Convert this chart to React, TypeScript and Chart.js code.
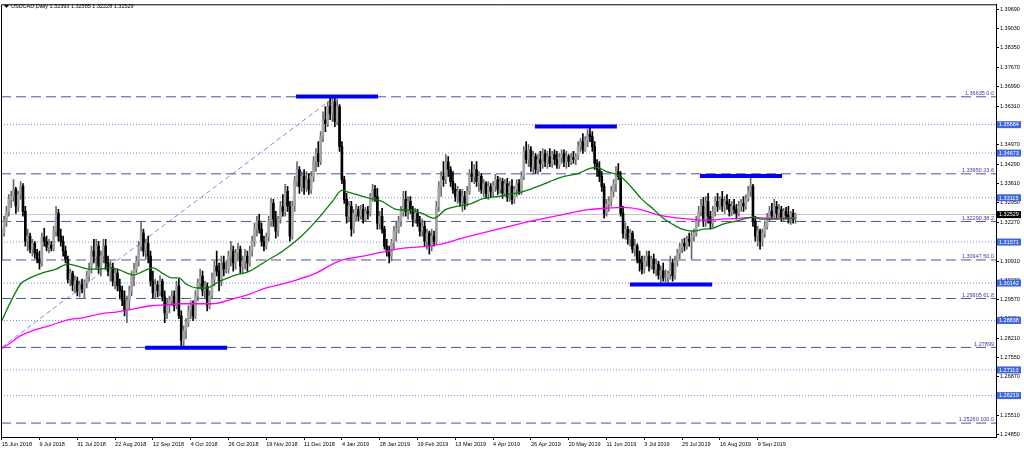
import React, { useEffect, useRef } from 'react';
import { Chart, registerables } from 'chart.js';
Chart.register(...registerables);

const titleText = 'USDCAD,Daily 1.32393 1.32585 1.32228 1.32529';

// Daily candles [open, high, low, close]
const ohlcPart1: number[][] = [
  [1.3108,1.3202,1.3091,1.3188],[1.3188,1.3247,1.3178,1.3230],[1.3230,1.3282,1.3212,1.3264],[1.3264,1.3323,1.3247,1.3306],
  [1.3306,1.3334,1.3278,1.3316],[1.3316,1.3375,1.3299,1.3341],[1.3341,1.3348,1.3257,1.3282],[1.3282,1.3334,1.3264,1.3323],
  [1.3323,1.3368,1.3306,1.3351],[1.3351,1.3361,1.3247,1.3264],[1.3264,1.3282,1.3143,1.3160],[1.3160,1.3202,1.3126,1.3178],
  [1.3178,1.3188,1.3119,1.3132],[1.3132,1.3167,1.3108,1.3153],[1.3153,1.3160,1.3101,1.3119],[1.3119,1.3132,1.3084,1.3098],
  [1.3098,1.3126,1.3063,1.3084],[1.3084,1.3188,1.3073,1.3174],[1.3174,1.3205,1.3143,1.3160],[1.3160,1.3178,1.3126,1.3139],
  [1.3139,1.3167,1.3119,1.3146],[1.3146,1.3160,1.3126,1.3136],[1.3136,1.3212,1.3126,1.3195],[1.3195,1.3282,1.3178,1.3257],
  [1.3257,1.3271,1.3160,1.3178],[1.3178,1.3202,1.3143,1.3160],[1.3160,1.3178,1.3108,1.3126],[1.3126,1.3143,1.3084,1.3098],
  [1.3098,1.3108,1.3015,1.3028],[1.3028,1.3063,1.3004,1.3049],[1.3049,1.3056,1.2987,1.3008],[1.3008,1.3039,1.2980,1.3021],
  [1.3021,1.3035,1.2969,1.2987],[1.2987,1.3021,1.2966,1.3008],[1.3008,1.3028,1.2980,1.2994],[1.2994,1.3025,1.2962,1.3015],
  [1.3015,1.3056,1.2997,1.3039],[1.3039,1.3084,1.3021,1.3063],[1.3063,1.3143,1.3049,1.3126],[1.3126,1.3167,1.3084,1.3108],
  [1.3108,1.3167,1.3063,1.3143],[1.3143,1.3160,1.3049,1.3073],[1.3073,1.3126,1.3039,1.3108],[1.3108,1.3167,1.3084,1.3143],
  [1.3143,1.3167,1.3063,1.3084],[1.3084,1.3108,1.3039,1.3056],[1.3056,1.3091,1.3021,1.3070],[1.3070,1.3084,1.3004,1.3021],
  [1.3021,1.3063,1.2994,1.3049],[1.3049,1.3063,1.2987,1.3004],[1.3004,1.3028,1.2959,1.2987],[1.2987,1.3004,1.2935,1.2952],
  [1.2952,1.2987,1.2900,1.2917],[1.2917,1.2969,1.2876,1.2952],[1.2952,1.3004,1.2924,1.2987],[1.2987,1.3056,1.2969,1.3039],
  [1.3039,1.3084,1.3004,1.3063],[1.3063,1.3108,1.3049,1.3091],[1.3091,1.3160,1.3073,1.3143],[1.3143,1.3226,1.3126,1.3188],
  [1.3188,1.3202,1.3108,1.3126],[1.3126,1.3167,1.3098,1.3153],[1.3153,1.3178,1.3084,1.3108],[1.3108,1.3126,1.3004,1.3021],
  [1.3021,1.3056,1.2962,1.2980],[1.2980,1.3028,1.2959,1.3008],[1.3008,1.3021,1.2966,1.2987],[1.2987,1.3039,1.2969,1.3021],
  [1.3021,1.3028,1.2952,1.2966],[1.2966,1.2987,1.2876,1.2910],[1.2910,1.2959,1.2890,1.2935],[1.2935,1.2969,1.2910,1.2952],
  [1.2952,1.2987,1.2935,1.2969],[1.2969,1.2987,1.2917,1.2935],[1.2935,1.3021,1.2924,1.3004],[1.3004,1.3028,1.2890,1.2900],
  [1.2900,1.2917,1.2785,1.2813],[1.2813,1.2865,1.2796,1.2848],[1.2848,1.2890,1.2820,1.2876],[1.2876,1.2935,1.2862,1.2917],
  [1.2917,1.2952,1.2890,1.2935],[1.2935,1.2952,1.2883,1.2900],[1.2900,1.2987,1.2890,1.2969],[1.2969,1.3028,1.2952,1.3015],
  [1.3015,1.3063,1.2994,1.3039],[1.3039,1.3056,1.2969,1.2987],[1.2987,1.3021,1.2959,1.3004],[1.3004,1.3015,1.2917,1.2935],
  [1.2935,1.2987,1.2924,1.2969],[1.2969,1.3049,1.2959,1.3028],[1.3028,1.3091,1.3004,1.3073],[1.3073,1.3126,1.3039,1.3056],
  [1.3056,1.3084,1.2987,1.3021],[1.3021,1.3108,1.3004,1.3084],[1.3084,1.3108,1.3039,1.3063],[1.3063,1.3091,1.3049,1.3063],
];
const ohlcPart2: number[][] = [
  [1.3063,1.3126,1.3049,1.3108],[1.3108,1.3160,1.3073,1.3126],[1.3126,1.3143,1.3056,1.3084],[1.3084,1.3132,1.3063,1.3119],
  [1.3119,1.3153,1.3091,1.3132],[1.3132,1.3143,1.3049,1.3073],[1.3073,1.3108,1.3046,1.3091],[1.3091,1.3132,1.3063,1.3108],
  [1.3108,1.3126,1.3056,1.3084],[1.3084,1.3143,1.3073,1.3126],[1.3126,1.3178,1.3108,1.3160],[1.3160,1.3223,1.3143,1.3202],
  [1.3202,1.3247,1.3178,1.3230],[1.3230,1.3254,1.3188,1.3202],[1.3202,1.3223,1.3143,1.3160],[1.3160,1.3178,1.3126,1.3143],
  [1.3143,1.3188,1.3132,1.3174],[1.3174,1.3247,1.3160,1.3230],[1.3230,1.3309,1.3212,1.3292],[1.3292,1.3306,1.3212,1.3237],
  [1.3237,1.3264,1.3171,1.3195],[1.3195,1.3247,1.3178,1.3237],[1.3237,1.3299,1.3223,1.3282],[1.3282,1.3323,1.3247,1.3264],
  [1.3264,1.3358,1.3247,1.3334],[1.3334,1.3351,1.3264,1.3282],[1.3282,1.3299,1.3160,1.3178],[1.3178,1.3299,1.3167,1.3282],
  [1.3282,1.3386,1.3264,1.3368],[1.3368,1.3438,1.3351,1.3410],[1.3410,1.3420,1.3327,1.3351],[1.3351,1.3403,1.3334,1.3386],
  [1.3386,1.3410,1.3323,1.3348],[1.3348,1.3403,1.3334,1.3375],[1.3375,1.3396,1.3323,1.3341],[1.3341,1.3403,1.3327,1.3386],
  [1.3386,1.3455,1.3368,1.3438],[1.3438,1.3483,1.3403,1.3466],[1.3466,1.3507,1.3420,1.3438],[1.3438,1.3542,1.3427,1.3525],
  [1.3525,1.3611,1.3507,1.3584],[1.3584,1.3629,1.3542,1.3570],[1.3570,1.3646,1.3559,1.3629],[1.3629,1.3663,1.3584,1.3604],
  [1.3604,1.3663,1.3577,1.3646],[1.3646,1.3660,1.3559,1.3577],[1.3577,1.3656,1.3566,1.3629],[1.3629,1.3636,1.3473,1.3490],
  [1.3490,1.3507,1.3361,1.3375],[1.3375,1.3386,1.3292,1.3306],[1.3306,1.3327,1.3223,1.3247],[1.3247,1.3299,1.3230,1.3282],
  [1.3282,1.3299,1.3178,1.3202],[1.3202,1.3271,1.3188,1.3257],[1.3257,1.3289,1.3230,1.3271],[1.3271,1.3282,1.3230,1.3247],
  [1.3247,1.3285,1.3237,1.3271],[1.3271,1.3289,1.3223,1.3237],[1.3237,1.3278,1.3230,1.3264],[1.3264,1.3282,1.3237,1.3257],
  [1.3257,1.3327,1.3247,1.3316],[1.3316,1.3358,1.3299,1.3341],[1.3341,1.3355,1.3299,1.3316],[1.3316,1.3344,1.3202,1.3223],
  [1.3223,1.3264,1.3202,1.3247],[1.3247,1.3275,1.3188,1.3202],[1.3202,1.3212,1.3132,1.3143],[1.3143,1.3167,1.3108,1.3126],
  [1.3126,1.3143,1.3084,1.3108],[1.3108,1.3167,1.3091,1.3153],[1.3153,1.3212,1.3132,1.3195],[1.3195,1.3230,1.3160,1.3202],
  [1.3202,1.3247,1.3188,1.3230],[1.3230,1.3282,1.3212,1.3264],[1.3264,1.3334,1.3247,1.3306],[1.3306,1.3334,1.3247,1.3264],
  [1.3264,1.3316,1.3237,1.3299],[1.3299,1.3316,1.3257,1.3271],[1.3271,1.3282,1.3212,1.3237],[1.3237,1.3275,1.3223,1.3257],
  [1.3257,1.3271,1.3212,1.3223],[1.3223,1.3247,1.3178,1.3195],[1.3195,1.3237,1.3178,1.3212],[1.3212,1.3230,1.3143,1.3160],
  [1.3160,1.3202,1.3132,1.3188],[1.3188,1.3195,1.3115,1.3143],[1.3143,1.3202,1.3126,1.3178],[1.3178,1.3195,1.3143,1.3160],
  [1.3160,1.3299,1.3150,1.3282],[1.3282,1.3368,1.3264,1.3351],[1.3351,1.3403,1.3316,1.3386],[1.3386,1.3438,1.3351,1.3375],
  [1.3375,1.3462,1.3361,1.3438],[1.3438,1.3455,1.3386,1.3410],[1.3410,1.3420,1.3351,1.3368],[1.3368,1.3403,1.3327,1.3341],
  [1.3341,1.3361,1.3299,1.3316],[1.3316,1.3351,1.3292,1.3334],[1.3334,1.3341,1.3282,1.3299],[1.3299,1.3341,1.3264,1.3316],
  [1.3316,1.3334,1.3271,1.3292],[1.3292,1.3351,1.3282,1.3334],[1.3334,1.3410,1.3323,1.3396],[1.3396,1.3438,1.3368,1.3386],
  [1.3386,1.3427,1.3361,1.3410],[1.3410,1.3438,1.3351,1.3368],[1.3368,1.3403,1.3334,1.3386],[1.3386,1.3396,1.3327,1.3341],
  [1.3341,1.3375,1.3316,1.3361],[1.3361,1.3368,1.3309,1.3327],[1.3327,1.3368,1.3306,1.3351],[1.3351,1.3361,1.3313,1.3334],
  [1.3334,1.3368,1.3316,1.3355],[1.3355,1.3393,1.3334,1.3375],[1.3375,1.3386,1.3323,1.3341],[1.3341,1.3382,1.3327,1.3368],
  [1.3368,1.3379,1.3309,1.3327],[1.3327,1.3375,1.3316,1.3361],[1.3361,1.3379,1.3299,1.3316],[1.3316,1.3368,1.3299,1.3351],
  [1.3351,1.3375,1.3289,1.3306],[1.3306,1.3351,1.3292,1.3341],[1.3341,1.3375,1.3316,1.3361],[1.3361,1.3375,1.3323,1.3334],
  [1.3334,1.3403,1.3323,1.3386],[1.3386,1.3490,1.3375,1.3473],[1.3473,1.3507,1.3431,1.3445],[1.3445,1.3497,1.3420,1.3479],
  [1.3479,1.3490,1.3403,1.3420],[1.3420,1.3473,1.3393,1.3455],[1.3455,1.3466,1.3396,1.3410],[1.3410,1.3462,1.3393,1.3445],
  [1.3445,1.3473,1.3403,1.3431],[1.3431,1.3483,1.3414,1.3466],[1.3466,1.3479,1.3420,1.3438],[1.3438,1.3473,1.3414,1.3455],
  [1.3455,1.3483,1.3420,1.3431],[1.3431,1.3473,1.3417,1.3462],[1.3462,1.3479,1.3427,1.3445],[1.3445,1.3473,1.3414,1.3424],
  [1.3424,1.3466,1.3414,1.3452],[1.3452,1.3479,1.3431,1.3466],[1.3466,1.3479,1.3420,1.3438],[1.3438,1.3473,1.3414,1.3455],
  [1.3455,1.3462,1.3420,1.3438],[1.3438,1.3466,1.3427,1.3452],[1.3452,1.3473,1.3431,1.3445],[1.3445,1.3466,1.3427,1.3455],
  [1.3455,1.3507,1.3445,1.3490],[1.3490,1.3518,1.3473,1.3507],[1.3507,1.3535,1.3466,1.3479],[1.3479,1.3525,1.3473,1.3514],
  [1.3514,1.3549,1.3490,1.3532],[1.3532,1.3556,1.3507,1.3525],[1.3525,1.3542,1.3473,1.3490],[1.3490,1.3507,1.3410,1.3431],
  [1.3431,1.3445,1.3386,1.3410],[1.3410,1.3438,1.3368,1.3386],[1.3386,1.3403,1.3334,1.3351],[1.3351,1.3361,1.3240,1.3257],
  [1.3257,1.3306,1.3247,1.3289],[1.3289,1.3316,1.3264,1.3299],[1.3299,1.3351,1.3282,1.3334],[1.3334,1.3375,1.3316,1.3361],
  [1.3361,1.3420,1.3334,1.3403],[1.3403,1.3431,1.3375,1.3386],[1.3386,1.3403,1.3247,1.3257],[1.3257,1.3282,1.3171,1.3188],
  [1.3188,1.3223,1.3167,1.3202],[1.3202,1.3212,1.3150,1.3167],[1.3167,1.3202,1.3143,1.3188],[1.3188,1.3195,1.3119,1.3132],
  [1.3132,1.3167,1.3108,1.3143],[1.3143,1.3150,1.3084,1.3098],[1.3098,1.3126,1.3056,1.3084],[1.3084,1.3108,1.3046,1.3063],
  [1.3063,1.3108,1.3049,1.3091],[1.3091,1.3126,1.3073,1.3108],[1.3108,1.3126,1.3056,1.3073],[1.3073,1.3108,1.3063,1.3098],
  [1.3098,1.3115,1.3049,1.3063],[1.3063,1.3098,1.3039,1.3080],[1.3080,1.3091,1.3028,1.3042],[1.3042,1.3073,1.3015,1.3056],
  [1.3056,1.3084,1.3021,1.3032],[1.3032,1.3060,1.3018,1.3032],
];
const ohlcPart3: number[][] = [
  [1.3032,1.3056,1.3015,1.3046],[1.3046,1.3108,1.3028,1.3084],[1.3084,1.3098,1.3021,1.3039],[1.3039,1.3108,1.3028,1.3091],
  [1.3091,1.3132,1.3073,1.3119],[1.3119,1.3153,1.3098,1.3139],[1.3139,1.3167,1.3119,1.3153],[1.3153,1.3171,1.3126,1.3143],
  [1.3143,1.3178,1.3132,1.3167],[1.3167,1.3188,1.3143,1.3160],[1.3160,1.3195,1.3098,1.3178],[1.3178,1.3202,1.3160,1.3188],
  [1.3188,1.3247,1.3178,1.3230],[1.3230,1.3282,1.3212,1.3264],[1.3264,1.3306,1.3247,1.3282],[1.3282,1.3313,1.3212,1.3230],
  [1.3230,1.3316,1.3212,1.3299],[1.3299,1.3327,1.3223,1.3247],[1.3247,1.3264,1.3202,1.3223],[1.3223,1.3282,1.3209,1.3264],
  [1.3264,1.3316,1.3247,1.3299],[1.3299,1.3327,1.3264,1.3282],[1.3282,1.3316,1.3271,1.3306],[1.3306,1.3334,1.3264,1.3282],
  [1.3282,1.3316,1.3257,1.3299],[1.3299,1.3323,1.3271,1.3289],[1.3289,1.3306,1.3247,1.3264],[1.3264,1.3299,1.3250,1.3282],
  [1.3282,1.3306,1.3257,1.3271],[1.3271,1.3289,1.3237,1.3257],[1.3257,1.3299,1.3247,1.3282],[1.3282,1.3306,1.3264,1.3292],
  [1.3292,1.3316,1.3264,1.3282],[1.3282,1.3323,1.3271,1.3309],[1.3309,1.3351,1.3299,1.3334],[1.3334,1.3386,1.3316,1.3351],
  [1.3351,1.3358,1.3212,1.3230],[1.3230,1.3247,1.3160,1.3178],[1.3178,1.3212,1.3143,1.3195],[1.3195,1.3202,1.3132,1.3160],
  [1.3160,1.3202,1.3143,1.3188],[1.3188,1.3230,1.3174,1.3212],[1.3212,1.3257,1.3202,1.3243],[1.3243,1.3282,1.3230,1.3264],
  [1.3264,1.3292,1.3237,1.3250],[1.3250,1.3306,1.3243,1.3282],[1.3282,1.3299,1.3237,1.3257],[1.3257,1.3289,1.3243,1.3271],
  [1.3271,1.3282,1.3230,1.3243],[1.3243,1.3275,1.3230,1.3264],[1.3264,1.3278,1.3237,1.3250],[1.3250,1.3282,1.3223,1.3237],
  [1.3237,1.3264,1.3219,1.3257],[1.3257,1.3271,1.3223,1.3237],[1.32393,1.32585,1.32228,1.32529],
];

// Moving averages sampled at [bar index, price]
const greenMA: number[][] = [
  [0,1.2883],[4,1.2952],[8,1.3011],[12,1.3032],[17,1.3049],[23,1.3063],[28,1.3080],[32,1.3073],[37,1.3063],[42,1.3063],
  [45,1.3067],[49,1.3063],[53,1.3049],[56,1.3042],[60,1.3056],[64,1.3067],[68,1.3049],[72,1.3032],[75,1.3032],[78,1.3011],
  [83,1.2997],[87,1.2997],[91,1.3015],[98,1.3039],[105,1.3056],[112,1.3091],[119,1.3126],[126,1.3171],[133,1.3230],[140,1.3299],
  [144,1.3337],[147,1.3330],[150,1.3323],[156,1.3309],[161,1.3299],[167,1.3271],[173,1.3268],[178,1.3257],[183,1.3240],[188,1.3271],
  [193,1.3282],[198,1.3289],[204,1.3309],[210,1.3316],[215,1.3323],[221,1.3334],[227,1.3351],[232,1.3368],[238,1.3386],[244,1.3396],
  [249,1.3414],[252,1.3417],[256,1.3403],[260,1.3393],[263,1.3379],[267,1.3344],[271,1.3306],[276,1.3271],[280,1.3240],[284,1.3219],
  [288,1.3202],[293,1.3195],[297,1.3202],[301,1.3205],[305,1.3219],[311,1.3230],[315,1.3240],[318,1.3243],[322,1.3237],[328,1.3237],
  [334,1.3240],[336,1.3240],
];
const magentaMA: number[][] = [
  [0,1.2786],[4,1.2807],[8,1.2831],[13,1.2848],[20,1.2865],[28,1.2886],[34,1.2893],[42,1.2907],[49,1.2914],[56,1.2924],
  [63,1.2935],[70,1.2938],[75,1.2942],[84,1.2942],[89,1.2942],[98,1.2959],[105,1.2976],[112,1.2997],[119,1.3011],[126,1.3028],
  [133,1.3049],[140,1.3080],[144,1.3094],[153,1.3108],[161,1.3122],[170,1.3136],[181,1.3143],[186,1.3150],[195,1.3171],[210,1.3202],
  [224,1.3230],[238,1.3254],[249,1.3271],[256,1.3275],[263,1.3278],[270,1.3271],[277,1.3254],[284,1.3243],[291,1.3237],[299,1.3233],
  [305,1.3237],[312,1.3240],[318,1.3243],[325,1.3240],[331,1.3240],[336,1.3243],
];

const dateTickBars = [0,16,32,48,64,80,96,112,128,144,160,176,192,208,224,240,256,272,288,304,320];
const dateTickLabels = ['15 Jun 2018','9 Jul 2018','31 Jul 2018','22 Aug 2018','12 Sep 2018','4 Oct 2018','26 Oct 2018',
  '19 Nov 2018','11 Dec 2018','4 Jan 2019','28 Jan 2019','19 Feb 2019','13 Mar 2019','4 Apr 2019','26 Apr 2019',
  '20 May 2019','11 Jun 2019','3 Jul 2019','25 Jul 2019','16 Aug 2019','9 Sep 2019'];
const priceTicks = [1.3969,1.3903,1.3835,1.3767,1.3699,1.3631,1.3563,1.3497,1.3429,1.3361,1.3295,1.3227,1.3159,1.3091,
  1.3023,1.2957,1.2889,1.2821,1.2755,1.2687,1.2619,1.2551,1.2485];

const fibLevels = [1.36635,1.3395,1.3229,1.30947,1.29605,1.27899,1.2526];
const fibLabels = ['1.36635 0.0','1.33950 23.6','1.32290 38.2','1.30947 50.0','1.29605 61.8','1.27899','1.25260 100.0'];
const dottedLevels = [1.35664,1.34673,1.33115,1.31571,1.30142,1.28838,1.27113,1.26219];
const currentPrice = 1.32529;
const trendStart = [0,1.27899];
const trendEnd = [141,1.36635];
// [from bar, to bar, price]
const blueSegments = [[124.6,159.3,1.3665],[225.7,260.4,1.356],[295.6,330.3,1.3387],[265.9,300.7,1.3009],[60.7,95.4,1.2789]];

const X_MIN = -0.3;
const X_MAX = 420.87;
const Y_MIN = 1.24775;
const Y_MAX = 1.3986;
const FONT = '"Liberation Sans", Arial, sans-serif';

export default function App() {
  const ref = useRef<HTMLCanvasElement>(null);
  useEffect(() => {
    document.body.style.margin = '0';
    const candles = [...ohlcPart1, ...ohlcPart2, ...ohlcPart3];
    const isBull = (c: number[]) => c[3] >= c[0];
    const hline = (v: number) => [{ x: X_MIN, y: v }, { x: X_MAX, y: v }];
    const datasets: any[] = [];

    blueSegments.forEach(s => datasets.push({
      type: 'line', data: [{ x: s[0], y: s[2] }, { x: s[1], y: s[2] }], borderColor: '#0000f0',
      borderWidth: 4, pointRadius: 0, borderCapStyle: 'butt', order: 1,
    }));
    datasets.push({
      type: 'line', data: greenMA.map(p => ({ x: p[0], y: p[1] })), borderColor: '#0a7a0a', borderWidth: 1.3,
      pointRadius: 0, cubicInterpolationMode: 'monotone', order: 2,
    });
    datasets.push({
      type: 'line', data: magentaMA.map(p => ({ x: p[0], y: p[1] })), borderColor: '#ff00ff', borderWidth: 1.3,
      pointRadius: 0, cubicInterpolationMode: 'monotone', order: 2,
    });
    datasets.push({
      type: 'bar', data: candles.map((c, i) => ({ x: i, y: [c[0], c[3]] })),
      backgroundColor: candles.map(c => (isBull(c) ? '#a4a4a4' : '#000000')), borderWidth: 0,
      grouped: false, categoryPercentage: 1, barPercentage: 1, maxBarThickness: 2, order: 4,
    });
    datasets.push({
      type: 'bar', data: candles.map((c, i) => ({ x: i, y: [c[2], c[1]] })),
      backgroundColor: candles.map(c => (isBull(c) ? '#6a6a6a' : '#000000')), borderWidth: 0,
      grouped: false, categoryPercentage: 1, barPercentage: 1, maxBarThickness: 1, order: 5,
    });
    datasets.push({
      type: 'line', data: [{ x: trendStart[0], y: trendStart[1] }, { x: trendEnd[0], y: trendEnd[1] }],
      borderColor: '#6b6bd0', borderWidth: 0.8, borderDash: [5, 3], pointRadius: 0, order: 6,
    });
    fibLevels.forEach(v => datasets.push({
      type: 'line', data: hline(v), borderColor: '#50509e', borderWidth: 1, borderDash: [10, 5],
      pointRadius: 0, order: 8,
    }));
    dottedLevels.forEach(v => datasets.push({
      type: 'line', data: hline(v), borderColor: '#6d8ee8', borderWidth: 1, borderDash: [1, 2],
      pointRadius: 0, order: 9,
    }));
    datasets.push({
      type: 'line', data: hline(currentPrice), borderColor: '#c4c4c4', borderWidth: 1, pointRadius: 0, order: 10,
    });

    const overlay = {
      id: 'mtOverlay',
      afterDraw(chart: any) {
        const { ctx, chartArea: a } = chart;
        const ys = chart.scales.y;
        ctx.save();
        ctx.strokeStyle = '#000';
        ctx.lineWidth = 1;
        ctx.beginPath();
        ctx.moveTo(a.left + 0.5, a.bottom);
        ctx.lineTo(a.left + 0.5, a.top + 0.5);
        ctx.lineTo(a.right, a.top + 0.5);
        ctx.stroke();
        // title
        ctx.fillStyle = '#000';
        ctx.beginPath();
        ctx.moveTo(4, 5); ctx.lineTo(9, 5); ctx.lineTo(6.5, 8); ctx.closePath(); ctx.fill();
        ctx.font = `5.5px ${FONT}`;
        ctx.textAlign = 'left';
        ctx.textBaseline = 'middle';
        ctx.fillText(titleText, 11, 6.5);
        // fib labels
        ctx.fillStyle = '#3a3a9e';
        ctx.textAlign = 'right';
        ctx.textBaseline = 'bottom';
        fibLevels.forEach((v, k) => ctx.fillText(fibLabels[k], a.right - 2, ys.getPixelForValue(v) - 0.5));
        // axis price boxes
        ctx.textAlign = 'left';
        ctx.textBaseline = 'middle';
        const box = (v: number, bg: string) => {
          const py = ys.getPixelForValue(v);
          ctx.fillStyle = bg;
          ctx.fillRect(a.right + 1, py - 3.5, 24, 7);
          ctx.fillStyle = '#fff';
          ctx.fillText(v.toFixed(5), a.right + 3, py + 0.3);
        };
        dottedLevels.forEach(v => box(v, '#3f66e0'));
        box(currentPrice, '#000');
        ctx.restore();
      },
    };

    const chart = new Chart(ref.current as HTMLCanvasElement, {
      type: 'bar',
      data: { datasets },
      options: {
        responsive: false,
        animation: false,
        events: [],
        layout: { padding: { left: 1, top: 1, right: 0, bottom: 0 } },
        plugins: { legend: { display: false }, tooltip: { enabled: false } },
        scales: {
          x: {
            type: 'linear', min: X_MIN, max: X_MAX, offset: false,
            grid: { drawOnChartArea: false, drawTicks: true, tickLength: 3, color: '#000', offset: false },
            border: { display: true, color: '#000' },
            ticks: {
              autoSkip: false, maxRotation: 0, align: 'start', padding: 1, color: '#000',
              font: { family: FONT, size: 5.5 },
              callback: (v: any) => dateTickLabels[dateTickBars.indexOf(Number(v))] ?? '',
            },
            afterBuildTicks: (s: any) => { s.ticks = dateTickBars.map(v => ({ value: v })); },
            afterFit: (s: any) => { s.height = 14; },
          },
          y: {
            type: 'linear', position: 'right', min: Y_MIN, max: Y_MAX,
            grid: { drawOnChartArea: false, drawTicks: true, tickLength: 3, color: '#000' },
            border: { display: true, color: '#000' },
            ticks: {
              autoSkip: false, padding: 1, color: '#000', font: { family: FONT, size: 5.5 },
              callback: (v: any) => Number(v).toFixed(5),
            },
            afterBuildTicks: (s: any) => { s.ticks = priceTicks.map(v => ({ value: v })); },
            afterFit: (s: any) => { s.width = 28; },
          },
        },
      } as any,
      plugins: [overlay],
    });
    return () => chart.destroy();
  }, []);
  return (
    <div style={{ position: 'absolute', left: 0, top: 0, width: 1024, height: 451, background: '#fff' }}>
      <canvas ref={ref} width={1024} height={451} style={{ display: 'block' }} />
    </div>
  );
}
